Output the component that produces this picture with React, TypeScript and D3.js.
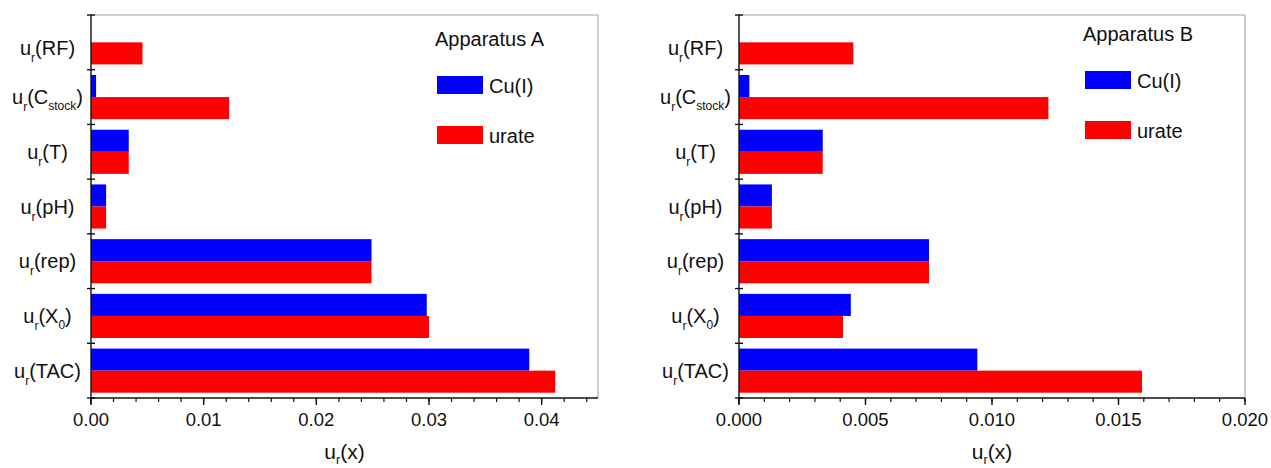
import React, { useEffect, useRef } from 'react';
import * as d3 from 'd3';

// categories, top to bottom; "|" separates a subscript
const categories = ['RF', 'C|stock', 'T', 'pH', 'rep', 'X|0', 'TAC'];
const seriesNames = ['Cu(I)', 'urate'];
const seriesColors = ['#0000ff', '#ff0000'];

// Apparatus A
const cuA = [0, 0.00045, 0.00335, 0.00134, 0.0249, 0.0298, 0.0389];
const urateA = [0.00457, 0.01226, 0.00335, 0.00134, 0.0249, 0.03, 0.0412];
const ticksA = [0, 0.01, 0.02, 0.03, 0.04];

// Apparatus B
const cuB = [0, 0.00041, 0.00331, 0.0013, 0.00751, 0.00442, 0.00942];
const urateB = [0.00452, 0.01223, 0.00331, 0.0013, 0.00751, 0.00411, 0.01593];
const ticksB = [0, 0.005, 0.01, 0.015, 0.02];

const FONT = 'Arial, "Liberation Sans", sans-serif';

const App = () => {
  const svgRef = useRef<SVGSVGElement>(null);

  useEffect(() => {
    const svg = d3.select(svgRef.current);
    svg.selectAll('*').remove();

    const top = 15;
    const bottom = 398;

    const drawPanel = (opts) => {
      const { left, right, xMax, ticks, minorStep, fmt, cu, urate, title, legendTop } = opts;
      const g = svg.append('g');

      const x = d3.scaleLinear().domain([0, xMax]).range([left, right]);
      const y = d3.scaleBand().domain(categories).range([top, bottom]).padding(0);
      const inner = d3.scaleBand().domain(seriesNames).range([0, y.bandwidth()])
        .paddingInner(0).paddingOuter(0.24);

      // frame (top + right in gray)
      g.append('line').attr('x1', left).attr('x2', right).attr('y1', top).attr('y2', top)
        .attr('stroke', '#a8a8a8').attr('stroke-width', 1.2);
      g.append('line').attr('x1', right).attr('x2', right).attr('y1', top).attr('y2', bottom)
        .attr('stroke', '#a8a8a8').attr('stroke-width', 1.2);

      // bars
      const values = [cu, urate];
      seriesNames.forEach((s, si) => {
        g.append('g')
          .selectAll('rect')
          .data(categories.map((c, i) => ({ c, v: values[si][i] })).filter(d => d.v > 0))
          .enter()
          .append('rect')
          .attr('x', x(0))
          .attr('y', d => y(d.c) + inner(s))
          .attr('width', d => x(d.v) - x(0))
          .attr('height', inner.bandwidth())
          .attr('fill', seriesColors[si]);
      });

      // y axis
      g.append('line').attr('x1', left).attr('x2', left).attr('y1', top).attr('y2', bottom + 6)
        .attr('stroke', '#111').attr('stroke-width', 1.4);
      const boundaries = categories.map(c => y(c)).concat([bottom]);
      g.selectAll('.ytick').data(boundaries).enter().append('line')
        .attr('x1', left - 4).attr('x2', left + 4)
        .attr('y1', d => d).attr('y2', d => d)
        .attr('stroke', '#111').attr('stroke-width', 1.4);

      // category labels with subscripts
      categories.forEach((c, i) => {
        const [main, sub] = c.split('|');
        const cy = y(c) + y.bandwidth() / 2 + 7 + (i === 0 ? 6 : 0);
        const t = g.append('text')
          .attr('x', left - 43.5).attr('y', cy)
          .attr('text-anchor', 'middle')
          .attr('font-family', FONT).attr('font-size', 20).attr('fill', '#111');
        t.append('tspan').text('u');
        t.append('tspan').attr('font-size', 12).attr('dy', 7).text('r');
        t.append('tspan').attr('dy', -7).text('(' + main);
        if (sub) {
          t.append('tspan').attr('font-size', 12).attr('dy', 6).text(sub);
          t.append('tspan').attr('dy', -6).text(')');
        } else {
          t.append('tspan').text(')');
        }
      });

      // x axis
      g.append('line').attr('x1', left).attr('x2', right).attr('y1', bottom).attr('y2', bottom)
        .attr('stroke', '#111').attr('stroke-width', 1.4);
      const minor = d3.range(0, xMax + 1e-9, minorStep);
      g.selectAll('.xminor').data(minor).enter().append('line')
        .attr('x1', d => x(d)).attr('x2', d => x(d))
        .attr('y1', bottom).attr('y2', bottom + 4)
        .attr('stroke', '#111').attr('stroke-width', 1.2);
      g.selectAll('.xmajor').data(ticks).enter().append('line')
        .attr('x1', d => x(d)).attr('x2', d => x(d))
        .attr('y1', bottom).attr('y2', bottom + 7)
        .attr('stroke', '#111').attr('stroke-width', 1.4);
      g.selectAll('.xlabel').data(ticks).enter().append('text')
        .attr('x', d => x(d)).attr('y', 426)
        .attr('text-anchor', 'middle')
        .attr('font-family', FONT).attr('font-size', 18.5).attr('fill', '#111')
        .text(d => fmt(d));

      // x title
      const xt = g.append('text')
        .attr('x', (left + right) / 2).attr('y', 459)
        .attr('text-anchor', 'middle')
        .attr('font-family', FONT).attr('font-size', 21).attr('fill', '#111');
      xt.append('tspan').text('u');
      xt.append('tspan').attr('font-size', 12.5).attr('dy', 5).text('r');
      xt.append('tspan').attr('dy', -5).text('(x)');

      // legend
      const lx = left + 344;
      g.append('text').attr('x', lx).attr('y', legendTop)
        .attr('font-family', FONT).attr('font-size', 20).attr('fill', '#111')
        .text(title);
      seriesNames.forEach((s, si) => {
        const sy = legendTop + 30 + si * 50;
        g.append('rect').attr('x', lx + 2).attr('y', sy).attr('width', 46).attr('height', 18)
          .attr('fill', seriesColors[si]);
        g.append('text').attr('x', lx + 54).attr('y', sy + 17)
          .attr('font-family', FONT).attr('font-size', 20).attr('fill', '#111')
          .text(s);
      });
    };

    drawPanel({
      left: 91, right: 598, xMax: 0.045, ticks: ticksA, minorStep: 0.002,
      fmt: d3.format('.2f'), cu: cuA, urate: urateA, title: 'Apparatus A', legendTop: 46,
    });
    drawPanel({
      left: 739, right: 1245, xMax: 0.02, ticks: ticksB, minorStep: 0.001,
      fmt: d3.format('.3f'), cu: cuB, urate: urateB, title: 'Apparatus B', legendTop: 41,
    });
  }, []);

  return (
    <svg ref={svgRef} width={1271} height={468}
      style={{ position: 'absolute', left: 0, top: 0, background: '#fff' }} />
  );
};

export default App;
